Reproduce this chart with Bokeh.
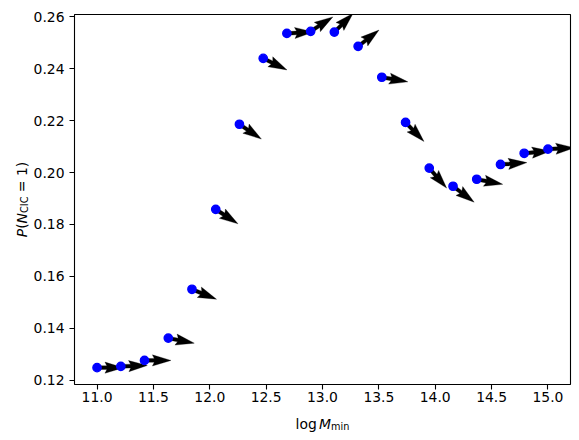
import math
from bokeh.plotting import figure
from bokeh.models import FixedTicker, Label, Range1d
from bokeh.embed import file_html
from bokeh.resources import INLINE

# ---- data ----
log_mmin = [11.000, 11.211, 11.421, 11.632, 11.842, 12.053, 12.263, 12.474, 12.684, 12.895,
            13.105, 13.316, 13.526, 13.737, 13.947, 14.158, 14.368, 14.579, 14.789, 15.000]
p_cic = [0.1248, 0.1253, 0.1276, 0.1362, 0.1550, 0.1858, 0.2186, 0.2440, 0.2536, 0.2544,
         0.2541, 0.2486, 0.2367, 0.2193, 0.2017, 0.1947, 0.1974, 0.2031, 0.2074, 0.2090]
# direction of each quiver arrow on screen, degrees (counter-clockwise from +x)
arrow_angle_deg = [0, 2, 0, -11, -22, -33, -34, -26, 3, 33,
                   45, 38, -10, -46, -49, -37, -11, 4, 5, 3]
x_ticks = [11.0, 11.5, 12.0, 12.5, 13.0, 13.5, 14.0, 14.5, 15.0]
y_ticks = [0.12, 0.14, 0.16, 0.18, 0.20, 0.22, 0.24, 0.26]

# ---- layout ----
FRAME_W, FRAME_H = 496, 370
LEFT, TOP = 74, 14
FONT = "DejaVu Sans"
FS = 13.9

x0 = min(log_mmin) - 0.05 * (max(log_mmin) - min(log_mmin))
x1 = max(log_mmin) + 0.05 * (max(log_mmin) - min(log_mmin))
yspan = max(p_cic) - min(p_cic)
y0 = min(p_cic) - 0.05 * yspan
y1 = max(p_cic) + 0.05 * yspan

p = figure(frame_width=FRAME_W, frame_height=FRAME_H,
           x_range=Range1d(x0, x1), y_range=Range1d(y0, y1),
           output_backend="svg", toolbar_location=None,
           min_border_left=LEFT, min_border_top=TOP, min_border_right=5, min_border_bottom=50)
p.background_fill_color = "white"
p.border_fill_color = "white"
p.grid.visible = False
p.outline_line_color = "black"
p.outline_line_width = 1.1

for ax in (p.xaxis[0], p.yaxis[0]):
    ax.axis_line_color = None
    ax.major_tick_in = 0
    ax.major_tick_out = 5
    ax.major_tick_line_width = 1.1
    ax.major_tick_line_color = "black"
    ax.minor_tick_line_color = None
    ax.major_label_text_font = FONT
    ax.major_label_text_font_size = f"{FS}px"
    ax.major_label_text_color = "black"
p.xaxis.major_label_standoff = 2
p.yaxis.major_label_standoff = 5

p.xaxis.ticker = FixedTicker(ticks=x_ticks)
p.xaxis.major_label_overrides = {t: f"{t:.1f}" for t in x_ticks}
p.yaxis.ticker = FixedTicker(ticks=y_ticks)
p.yaxis.major_label_overrides = {t: f"{t:.2f}" for t in y_ticks}

# ---- quiver arrows (matplotlib-style polygons, fixed screen length) ----
sx = FRAME_W / (x1 - x0)
sy = FRAME_H / (y1 - y0)
L = 26.5
w = 3.72
us = [0, L - 4.5 * w, L - 5 * w, L, L - 5 * w, L - 4.5 * w, 0]
vs = [0.5 * w, 0.5 * w, 1.5 * w, 0, -1.5 * w, -0.5 * w, -0.5 * w]
xs, ys = [], []
for xc, yc, a in zip(log_mmin, p_cic, arrow_angle_deg):
    t = math.radians(a)
    c, s = math.cos(t), math.sin(t)
    xs.append([xc + (u * c - v * s) / sx for u, v in zip(us, vs)])
    ys.append([yc + (u * s + v * c) / sy for u, v in zip(us, vs)])
p.patches(xs, ys, fill_color="black", line_color="black", line_width=0.3)

p.scatter(log_mmin, p_cic, size=8.3, fill_color="blue", line_color="blue", line_width=1.4)

# ---- axis labels built from pieces (italic / subscript), canvas pixel units ----
SUB = FS * 0.7

def lab(x, y, text, size, italic=False, angle=0.0):
    p.add_layout(Label(x=x, y=y, x_units="canvas", y_units="canvas", text=text,
                       text_font=FONT, text_font_size=f"{size:.2f}px",
                       text_font_style="italic" if italic else "normal",
                       text_color="black", text_align="left", text_baseline="alphabetic",
                       angle=angle), "below")

# x label: log M_min
xw = [21.2, 2.3, 12.0, 18.3]
xs0 = LEFT + FRAME_W / 2 - sum(xw) / 2
base = TOP + FRAME_H + 39.5
lab(xs0, base, "log", FS)
lab(xs0 + xw[0] + xw[1], base, "M", FS, italic=True)
lab(xs0 + xw[0] + xw[1] + xw[2], base + 2.6, "min", SUB)

# y label: P(N_CIC = 1), rotated to read bottom-to-top
yw = [8.38, 5.42, 10.4, 16.45, 4.4, 11.65, 4.4, 14.26]
pos = TOP + FRAME_H / 2 + sum(yw) / 2
bx = 21.0
rot = math.pi / 2
lab(bx, pos, "P", FS, italic=True, angle=rot); pos -= yw[0]
lab(bx, pos, "(", FS, angle=rot); pos -= yw[1]
lab(bx, pos, "N", FS, italic=True, angle=rot); pos -= yw[2]
lab(bx + 2.6, pos, "CIC", SUB, angle=rot); pos -= yw[3] + yw[4]
lab(bx, pos, "=", FS, angle=rot); pos -= yw[5] + yw[6]
lab(bx, pos, "1)", FS, angle=rot)

open("out.html", "w").write(file_html(p, INLINE))
